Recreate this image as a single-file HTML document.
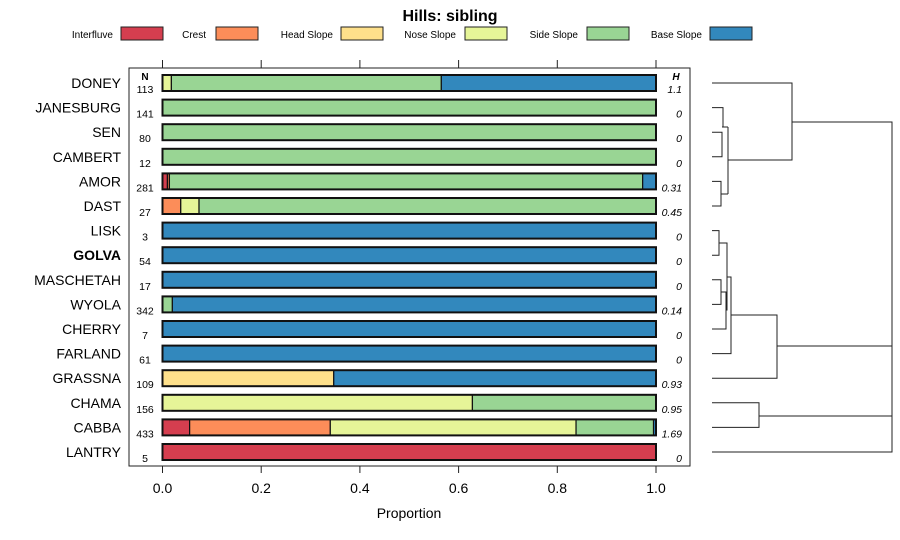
<!DOCTYPE html>
<html><head><meta charset="utf-8"><style>
body{margin:0;background:#fff}
svg{display:block;font-family:"Liberation Sans",sans-serif}
</style></head><body>
<svg id="chart" width="900" height="540" viewBox="0 0 900 540" xmlns="http://www.w3.org/2000/svg">
<text x="450" y="21" text-anchor="middle" font-size="16" font-weight="bold">Hills: sibling</text>
<g id="legend"></g>
<rect x="129" y="68" width="561" height="398" fill="none" stroke="#222" stroke-width="1"/>
<text x="145" y="80" text-anchor="middle" font-size="10" font-weight="bold">N</text>
<text x="676" y="80" text-anchor="middle" font-size="10" font-weight="bold" font-style="italic">H</text>
<g id="axes"></g>
<g id="bars"></g>
<g id="dendro" stroke="#222" stroke-width="1" fill="none"></g>
<text x="409" y="518" text-anchor="middle" font-size="14">Proportion</text>
</svg>
<script>
const classes = ["Interfluve","Crest","Head Slope","Nose Slope","Side Slope","Base Slope"];
const colors = ["#d53e4f","#fc8d59","#fee08b","#e6f598","#99d594","#3288bd"];
const series = ["DONEY","JANESBURG","SEN","CAMBERT","AMOR","DAST","LISK","GOLVA","MASCHETAH","WYOLA","CHERRY","FARLAND","GRASSNA","CHAMA","CABBA","LANTRY"];
const nValues = [113,141,80,12,281,27,3,54,17,342,7,61,109,156,433,5];
const hValues = ["1.1","0","0","0","0.31","0.45","0","0","0","0.14","0","0","0.93","0.95","1.69","0"];
// proportions: Interfluve, Crest, Head, Nose, Side, Base
const pInterfluve = [0,0,0,0,0.01,0,0,0,0,0,0,0,0,0,0.055,1];
const pCrest      = [0,0,0,0,0.004,0.037,0,0,0,0,0,0,0,0,0.285,0];
const pHead       = [0,0,0,0,0,0,0,0,0,0,0,0,0.347,0,0,0];
const pNose       = [0.018,0,0,0,0,0.037,0,0,0,0,0,0,0,0.628,0.498,0];
const pSide       = [0.547,1,1,1,0.959,0.926,0,0,0,0.02,0,0,0,0.372,0.157,0];
const pBase       = [0.435,0,0,0,0.027,0,1,1,1,0.98,1,1,0.653,0,0.005,0];
const ticks = [0,0.2,0.4,0.6,0.8,1.0];
const tickLabels = ["0.0","0.2","0.4","0.6","0.8","1.0"];

const NS="http://www.w3.org/2000/svg";
const X0=162.5,X1=656,Y0=83,DY=24.6;
const xs=v=>X0+(X1-X0)*v;
const ys=i=>Y0+DY*i;
function mk(tag,attrs,parent){const e=document.createElementNS(NS,tag);for(const k in attrs)e.setAttribute(k,attrs[k]);parent.appendChild(e);return e;}

const lg=document.getElementById('legend');
const lgText=[113,206,333,456,578,702];
const lgBox=[121,216,341,465,587,710];
classes.forEach((c,i)=>{
  const t=mk('text',{x:lgText[i],y:38,'text-anchor':'end','font-size':'10'},lg);t.textContent=c;
  
  
  const r=mk('rect',{x:lgBox[i],y:27,width:42,height:13,fill:colors[i],stroke:'#222','stroke-width':1},lg);
  
  
});

const ax=document.getElementById('axes');
ticks.forEach((v,i)=>{
  const l1=mk('line',{x1:xs(v),x2:xs(v),y1:60,y2:68,stroke:'#222'},ax);
  
  
  const l2=mk('line',{x1:xs(v),x2:xs(v),y1:466,y2:473,stroke:'#222'},ax);
  
  
  const t=mk('text',{x:xs(v),y:493,'text-anchor':'middle','font-size':'14'},ax);t.textContent=tickLabels[i];
  
  
});

const bg=document.getElementById('bars');
const props=[pInterfluve,pCrest,pHead,pNose,pSide,pBase];
series.forEach((s,i)=>{
  const y=ys(i);
  const lab=mk('text',{x:121,y:y+5,'text-anchor':'end','font-size':'14','font-weight':s==='GOLVA'?'bold':'normal'},bg);lab.textContent=s;
  
  
  const n=mk('text',{x:145,y:y+10,'text-anchor':'middle','font-size':'10.5'},bg);n.textContent=nValues[i];
  
  
  const h=mk('text',{x:682,y:y+10,'text-anchor':'end','font-size':'10.5','font-style':'italic'},bg);h.textContent=hValues[i];
  
  
  let cum=0;
  props.forEach((arr,k)=>{
    const v=arr[i];if(v<=0)return;
    const r=mk('rect',{x:xs(cum),y:y-8,width:xs(cum+v)-xs(cum),height:16,fill:colors[k],stroke:'#111','stroke-width':1.2},bg);
    
    
    cum+=v;
  });
  const o=mk('rect',{x:X0,y:y-8,width:X1-X0,height:16,fill:'none',stroke:'#111','stroke-width':2},bg);
  
  
});

const dg=document.getElementById('dendro');
const L=712;
const segs=[
 // top cluster
 [[L,ys(2)],[722,ys(2)],[722,ys(3)],[L,ys(3)]],
 [[L,ys(1)],[723,ys(1)],[723,127]],
 [[722,127],[728,127]],
 [[L,ys(4)],[721,ys(4)],[721,ys(5)],[L,ys(5)]],
 [[721,194],[728,194]],[[728,127],[728,194]],
 [[728,160],[792,160],[792,ys(0)],[L,ys(0)]],
 // middle cluster
 [[L,ys(6)],[719,ys(6)],[719,ys(7)],[L,ys(7)]],
 [[L,ys(8)],[721,ys(8)],[721,ys(9)],[L,ys(9)]],
 [[721,292],[726,292],[726,ys(10)],[L,ys(10)]],
 [[719,243],[727,243],[727,310],[726,310]],
 [[727,277],[731,277],[731,ys(11)],[L,ys(11)]],
 [[731,315],[777,315],[777,ys(12)],[L,ys(12)]],
 // bottom
 [[L,ys(13)],[759,ys(13)],[759,ys(14)],[L,ys(14)]],
 [[792,122],[892,122],[892,ys(15)],[L,ys(15)]],
 [[777,346],[892,346]],[[759,416],[892,416]]
];
segs.forEach(p=>{
  const e=mk('polyline',{points:p.map(q=>q.join(',')).join(' ')},dg);
  
  
});
</script>
</body></html>
